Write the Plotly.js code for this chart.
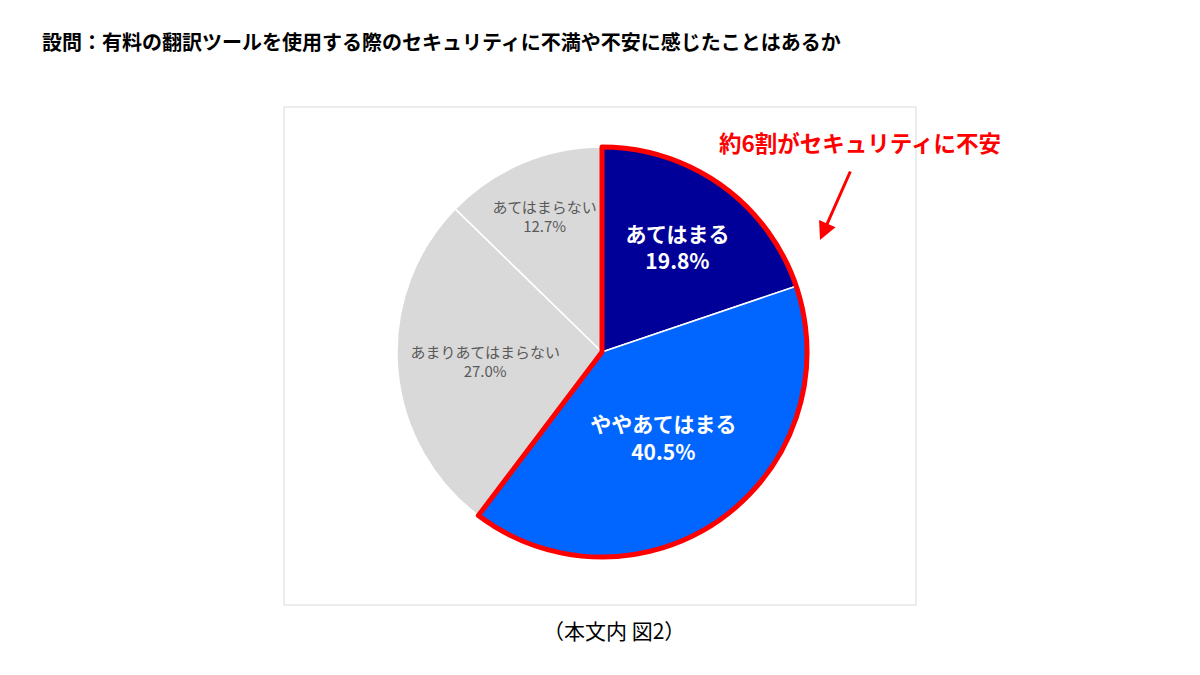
<!DOCTYPE html>
<html>
<head>
<meta charset="utf-8">
<script src="https://cdn.plot.ly/plotly-3.0.1.min.js"></script>
<style>
  html, body { margin: 0; padding: 0; background: #fff; }
  #chart { width: 1200px; height: 675px; }
</style>
</head>
<body>
<div id="chart"></div>
<script>
/* ── data ── */
const LABELS  = ['あてはまる', 'ややあてはまる', 'あまりあてはまらない', 'あてはまらない'];
const VALUES  = [19.8, 40.5, 27.0, 12.7];
const COLORS  = ['#000099', '#0066ff', '#d9d9d9', '#d9d9d9'];
const TEXT_COLORS = ['#ffffff', '#ffffff', '#595959', '#595959'];
const TEXT_SIZES  = [21, 21, 15, 15];

/* share highlighted with the red outline (first two answers) */
const CONCERN_LABELS = ['不安あり', 'その他'];
const CONCERN_VALUES = [VALUES[0] + VALUES[1], VALUES[2] + VALUES[3]];

const JP_FONT = '"Noto Sans CJK JP", "Noto Sans", sans-serif';

/* px -> paper helpers (margins are zero) */
const W = 1200, H = 675;
const px = x => x / W;
const py = y => 1 - y / H;

const PIE_DOMAIN = { x: [px(397), px(807)], y: [py(557), py(147)] };

/* bold white text on the two blue slices, plain grey on the rest */
const BOLD_TPL  = '<b>%{label}</b><br><b>%{value:.1f}%</b>';
const PLAIN_TPL = '%{label}<br>%{value:.1f}%';

const mainPie = {
    type: 'pie',
    labels: LABELS,
    values: VALUES,
    sort: false,
    direction: 'clockwise',
    rotation: 0,
    domain: PIE_DOMAIN,
    marker: { colors: COLORS, line: { color: '#ffffff', width: 1.5 } },
    texttemplate: [BOLD_TPL, BOLD_TPL, PLAIN_TPL, PLAIN_TPL],
    textposition: 'inside',
    insidetextorientation: 'horizontal',
    textfont: { family: JP_FONT, size: TEXT_SIZES, color: TEXT_COLORS },
    hoverinfo: 'skip',
    showlegend: false
};

/* red outline round the first two slices */
const outlinePie = {
    type: 'pie',
    labels: CONCERN_LABELS,
    values: CONCERN_VALUES,
    sort: false,
    direction: 'clockwise',
    rotation: 0,
    domain: PIE_DOMAIN,
    marker: {
        colors: ['rgba(0,0,0,0)', 'rgba(0,0,0,0)'],
        line: { color: ['#ff0000', 'rgba(0,0,0,0)'], width: 5 }
    },
    textinfo: 'none',
    hoverinfo: 'skip',
    showlegend: false
};

const layout = {
    width: W,
    height: H,
    margin: { t: 0, b: 0, l: 0, r: 0 },
    paper_bgcolor: '#ffffff',
    font: { family: JP_FONT },
    shapes: [{
        type: 'rect', xref: 'paper', yref: 'paper',
        x0: px(284), x1: px(916), y0: py(605), y1: py(107),
        line: { color: '#d9d9d9', width: 1 }
    }],
    annotations: [
        {
            text: '<b>設問：有料の翻訳ツールを使用する際のセキュリティに不満や不安に感じたことはあるか</b>',
            xref: 'paper', yref: 'paper', x: px(40), y: py(42),
            xanchor: 'left', yanchor: 'middle', showarrow: false,
            font: { size: 20, color: '#000000', family: JP_FONT }
        },
        {
            text: '<b>約6割がセキュリティに不安</b>',
            xref: 'paper', yref: 'paper', x: px(860), y: py(142),
            xanchor: 'center', yanchor: 'middle', showarrow: false,
            font: { size: 22.5, color: '#ff0000', family: JP_FONT }
        },
        {
            text: '',
            xref: 'paper', yref: 'paper', x: px(820), y: py(240),
            ax: 31, ay: -70, showarrow: true,
            arrowhead: 2, arrowsize: 1.2, arrowwidth: 3, arrowcolor: '#ff0000'
        },
        {
            text: '（本文内 図2）',
            xref: 'paper', yref: 'paper', x: px(614), y: py(630),
            xanchor: 'center', yanchor: 'middle', showarrow: false,
            font: { size: 21, color: '#000000', family: JP_FONT }
        }
    ]
};

Plotly.newPlot('chart', [mainPie, outlinePie], layout, { displayModeBar: false, staticPlot: true });
</script>
</body>
</html>
